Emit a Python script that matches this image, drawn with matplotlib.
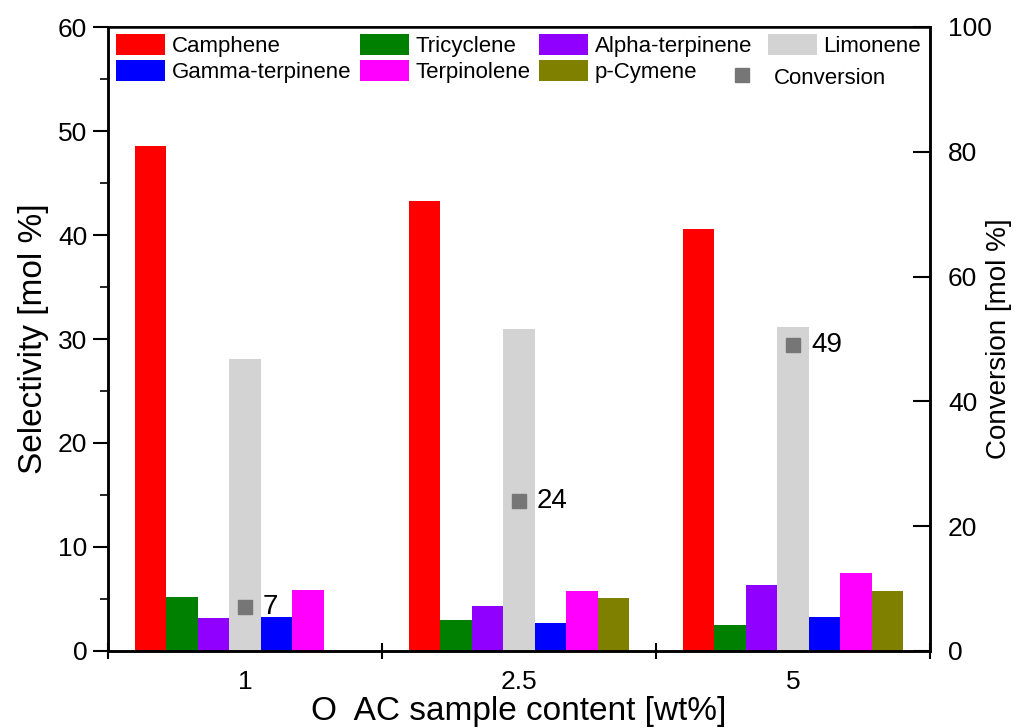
import matplotlib
matplotlib.use("Agg")
import matplotlib.pyplot as plt
import numpy as np
from matplotlib.patches import Patch
from matplotlib.lines import Line2D
from matplotlib.ticker import MultipleLocator, FixedLocator, NullFormatter

plt.rcParams["font.family"] = ["Liberation Sans", "DejaVu Sans"]

samples = ["1", "2.5", "5"]
compounds = ["Camphene", "Tricyclene", "Alpha-terpinene", "Limonene",
             "Gamma-terpinene", "Terpinolene", "p-Cymene"]
camphene = [48.6, 43.3, 40.6]
tricyclene = [5.2, 3.0, 2.5]
alpha_terpinene = [3.2, 4.3, 6.3]
limonene = [28.1, 31.0, 31.2]
gamma_terpinene = [3.3, 2.7, 3.3]
terpinolene = [5.9, 5.8, 7.5]
p_cymene = [0.0, 5.1, 5.8]
conversion = [7, 24, 49]

colors = ["#ff0000", "#008000", "#8f00ff", "#d3d3d3",
          "#0000ff", "#ff00ff", "#808000"]
series = [camphene, tricyclene, alpha_terpinene, limonene,
          gamma_terpinene, terpinolene, p_cymene]

W, H = 1016, 728
fig = plt.figure(figsize=(W / 100, H / 100), dpi=100)
ax = fig.add_axes([108 / W, 77 / H, 822 / W, 624 / H])
ax2 = ax.twinx()

x = np.arange(len(samples))
bw = 0.115
for j, (vals, c) in enumerate(zip(series, colors)):
    ax.bar(x + (j - 3) * bw, vals, width=bw, color=c, linewidth=0)

ax2.plot(x, conversion, ls="none", marker="s", ms=10, color="#767676")
for xi, v in zip(x, conversion):
    ax2.annotate(f"{v}", (xi, v), xytext=(13, 0), textcoords="offset points",
                 fontsize=20, va="center", ha="left")

ax.set_xlim(-0.5, 2.5)
ax.set_ylim(0, 60)
ax2.set_ylim(0, 100)

# x: tick marks at the group borders, labels at group centres
ax.xaxis.set_major_locator(FixedLocator([-0.5, 0.5, 1.5, 2.5]))
ax.xaxis.set_major_formatter(NullFormatter())
ax.xaxis.set_minor_locator(FixedLocator(x))
ax.set_xticklabels(samples, minor=True)
ax.tick_params(axis="x", which="major", direction="inout", length=12, width=1.5)
ax.tick_params(axis="x", which="minor", length=0, pad=14, labelsize=19)

ax.yaxis.set_major_locator(MultipleLocator(10))
ax.yaxis.set_minor_locator(MultipleLocator(5))
ax.tick_params(axis="y", which="major", direction="out", length=11, width=1.5,
               labelsize=19, pad=4)
ax.tick_params(axis="y", which="minor", direction="out", length=6, width=1.2)

ax2.yaxis.set_major_locator(MultipleLocator(20))
ax2.tick_params(axis="y", which="major", direction="in", length=12, width=1.5,
                labelsize=19, pad=13)

for a in (ax, ax2):
    for s in a.spines.values():
        s.set_linewidth(1.8)
ax2.spines["top"].set_linewidth(1.2)

ax.set_xlabel("O  AC sample content [wt%]", fontsize=24, labelpad=1)
ax.set_ylabel("Selectivity [mol %]", fontsize=24, labelpad=6)
ax2.set_ylabel("Conversion [mol %]", fontsize=20, labelpad=-4)

patches = {n: Patch(facecolor=c, edgecolor="none") for n, c in zip(compounds, colors)}
leg_kw = dict(frameon=False, fontsize=16, handlelength=2.2, handleheight=1.05,
              handletextpad=0.3, labelspacing=0.15, columnspacing=0.4,
              borderpad=0, borderaxespad=0, loc="upper left")


def px(xp, yp):
    return ((xp - 108) / 822, (651 - yp) / 624)


order = ["Camphene", "Gamma-terpinene", "Tricyclene", "Terpinolene",
         "Alpha-terpinene", "p-Cymene"]
leg1 = ax2.legend([patches[n] for n in order], order, ncol=3,
                  bbox_to_anchor=px(116, 34), **leg_kw)
ax2.add_artist(leg1)
leg2 = ax2.legend([patches["Limonene"]], ["Limonene"],
                  bbox_to_anchor=px(768, 34), **leg_kw)
ax2.add_artist(leg2)
conv_handle = Line2D([], [], ls="none", marker="s", ms=10, color="#767676")
ax2.legend([conv_handle], ["Conversion"], bbox_to_anchor=px(718, 66), **leg_kw)

fig.savefig("out.png", dpi=100)
